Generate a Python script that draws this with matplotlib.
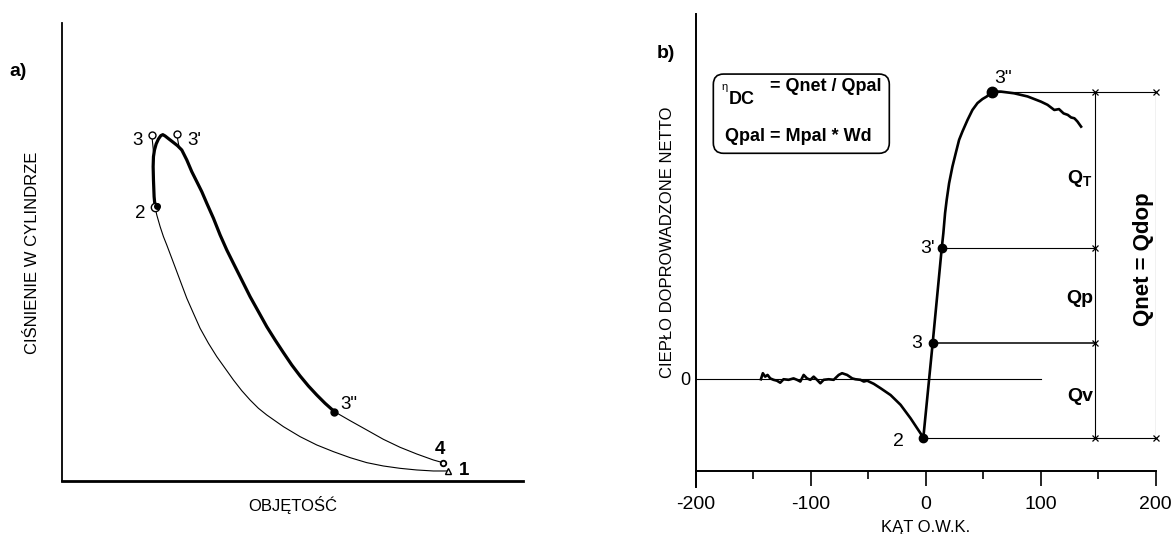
import matplotlib
matplotlib.use("Agg")
import matplotlib.pyplot as plt
from matplotlib.patches import FancyBboxPatch

plt.rcParams['font.family'] = ['Liberation Sans', 'DejaVu Sans']

# ---------------- a) cylinder pressure vs volume ----------------
# compression 1 -> 2 (thin line)
compression_v = [83.43, 80.54, 76.92, 73.30, 69.68, 66.07, 62.45, 58.83,
                 55.21, 51.60, 47.98, 44.36, 42.55, 40.74, 38.93, 37.12,
                 35.32, 33.51, 31.70, 29.89, 28.44, 27.00, 25.91, 24.83,
                 23.74, 22.65, 21.93, 21.21, 20.48, 20.12]
compression_p = [2.18, 2.18, 2.40, 2.76, 3.27, 4.00, 5.09, 6.40, 7.86, 9.67,
                 11.85, 14.40, 15.86, 17.67, 19.71, 22.04, 24.58, 27.13,
                 30.04, 33.31, 36.58, 39.86, 42.77, 45.67, 48.59, 51.49,
                 53.31, 55.49, 58.04, 59.71]
# combustion and expansion 2 -> 3 -> 3' -> 3" (thick line)
combustion_v = [20.12, 19.90, 19.76, 19.69, 19.76, 19.98, 20.34, 20.84,
                21.35, 21.79, 22.29, 23.02, 23.96, 24.97, 25.91, 27.00,
                28.08, 29.17, 30.25, 31.34, 32.79, 34.23, 35.68, 37.12,
                38.93, 40.74, 42.55, 44.36, 46.17, 47.98, 49.79, 51.60,
                53.40, 55.21, 57.02, 59.05]
combustion_p = [59.71, 62.04, 65.68, 68.59, 70.77, 72.22, 73.53, 74.62,
                75.35, 75.57, 75.28, 74.70, 73.97, 73.17, 72.22, 70.04,
                67.49, 65.31, 63.13, 60.59, 57.31, 53.68, 50.40, 47.49,
                43.86, 40.22, 36.95, 33.67, 30.77, 28.00, 25.31, 22.91,
                20.73, 18.77, 16.95, 15.13]
# after-burning expansion 3" -> 4 (thin line)
expansion_v = [59.05, 62.45, 66.07, 69.68, 73.30, 76.92, 80.54, 82.57]
expansion_p = [15.13, 13.16, 11.13, 9.09, 7.35, 5.89, 4.58, 4.00]

# characteristic points of the p-V cycle
pv_point_names = ['1', '2', '3', "3'", '3"', '4']
pv_point_v = [83.7, 20.12, 19.4, 24.8, 59.05, 82.57]
pv_point_p = [2.2, 59.71, 75.5, 75.7, 15.13, 4.0]
# where the leader lines of points 3 and 3' meet the curve
leader_v = [19.8, 25.3]
leader_p = [71.5, 73.0]

# ---------------- b) net heat released vs crank angle ----------------
angle_pre = [-143.3, -141.6, -139.6, -137.5, -135.2, -132.3, -129.4, -126.5,
             -123.6, -119.2, -114.9, -111.9, -109.0, -106.1, -103.2, -100.3,
             -97.4, -94.5, -91.6, -88.7, -84.3, -80.0, -75.6, -72.7, -68.3,
             -63.9, -61.1, -56.7, -53.8, -50.9, -45.1, -39.3, -30.5, -21.8,
             -13.1, -7.3]
q_pre = [-0.1, 2.0, 0.8, 1.4, 0.2, -0.3, -0.6, -1.3, -0.1, -0.3, 0.2, -0.3,
         -0.9, 1.4, 0.2, -0.3, 0.8, -0.3, -1.5, -0.3, -0.1, -0.3, 1.4, 2.0,
         1.4, 0.2, -0.1, -0.3, -0.9, -0.6, -1.7, -3.2, -5.6, -9.0, -13.7,
         -17.2]
angle_rise = [15.4, 16.9, 18.3, 20.4, 23.3, 26.2, 29.1, 32.0, 36.4, 40.7,
              45.1, 49.4, 53.2]
q_rise = [50.7, 57.7, 62.3, 68.1, 73.9, 78.6, 83.2, 86.1, 90.1, 93.6,
          96.0, 97.4, 98.3]
angle_post = [65.4, 77.0, 88.7, 100.3, 106.0, 111.9, 116.0, 120.0, 123.6,
              126.5, 129.4, 132.0, 135.2]
q_post = [100.0, 99.4, 98.3, 96.5, 95.4, 93.6, 93.9, 92.4, 91.9, 91.0,
          90.7, 89.6, 87.8]

# characteristic points 2, 3, 3', 3"
heat_point_names = ['2', '3', "3'", '3"']
heat_point_angle = [-2.0, 6.1, 14.0, 57.6]
heat_point_q = [-20.4, 12.4, 45.5, 100.0]

# crank angle ticks
angle_ticks = [-200, -100, 0, 100, 200]
angle_minor_ticks = [-150, -50, 50, 150]
# positions of the dimension lines
dim_inner_angle = 147
dim_outer_angle = 200

fig = plt.figure(figsize=(11.74, 5.34), dpi=100)

# ---- panel a ----
ax1 = fig.add_axes([0.0532, 0.0993, 0.3923, 0.8582])
ax1.set_xlim(0, 100)
ax1.set_ylim(0, 100)
for s in ('top', 'right'):
    ax1.spines[s].set_visible(False)
ax1.spines['left'].set_linewidth(1.3)
ax1.spines['bottom'].set_linewidth(2.0)
ax1.set_xticks([])
ax1.set_yticks([])

ax1.plot(compression_v, compression_p, color='black', lw=0.8)
ax1.plot(combustion_v, combustion_p, color='black', lw=2.3,
         solid_capstyle='round', solid_joinstyle='round')
ax1.plot(expansion_v, expansion_p, color='black', lw=0.8)

pv = dict(zip(pv_point_names, zip(pv_point_v, pv_point_p)))
# leader lines for 3 and 3'
for name, lv, lp in zip(['3', "3'"], leader_v, leader_p):
    ax1.plot([pv[name][0], lv], [pv[name][1], lp], color='black', lw=0.8)
for name in ['3', "3'"]:
    ax1.plot(*pv[name], marker='o', ms=5, mfc='white', mec='black', mew=1.0)
ax1.plot(*pv['2'], marker='o', ms=6, mfc='white', mec='black', mew=1.0)
ax1.plot(pv['2'][0] + 0.3, pv['2'][1] + 0.3, marker='o', ms=4, color='black')
ax1.plot(*pv['3"'], marker='o', ms=5, color='black')
ax1.plot(*pv['4'], marker='o', ms=4, mfc='white', mec='black', mew=1.3)
ax1.plot(*pv['1'], marker='^', ms=5, mfc='white', mec='black', mew=1.0)

pv_label_pos = {'3': (16.4, 74.4), "3'": (28.6, 74.4), '2': (16.9, 58.3),
                '3"': (62.2, 16.6), '4': (82.0, 6.9), '1': (87.2, 2.2)}
for name, (lx, ly) in pv_label_pos.items():
    ax1.text(lx, ly, name, fontsize=13.5, ha='center', va='center',
             fontweight='bold' if name in ('4', '1') else 'normal')

ax1.set_xlabel('OBJĘTOŚĆ', fontsize=12)
ax1.xaxis.set_label_coords(0.5005, -0.0524)
ax1.xaxis.label.set_va('center')
ax1.set_ylabel('CIŚNIENIE W CYLINDRZE', fontsize=12)
ax1.yaxis.set_label_coords(-0.064, 0.4975)
ax1.yaxis.label.set_va('center')

fig.text(18 / 1174, 1 - 71 / 534, 'a)', fontsize=14, fontweight='bold',
         ha='center', va='center')

# ---- panel b ----
ax2 = fig.add_axes([0.5926, 0.0880, 0.3917, 0.8858])
ax2.set_xlim(-200, 200)
ax2.set_ylim(-37.6, 127)
for s in ('top', 'right'):
    ax2.spines[s].set_visible(False)
ax2.spines['bottom'].set_position(('data', -32.2))
ax2.spines['left'].set_linewidth(1.4)
ax2.spines['bottom'].set_linewidth(1.4)
ax2.set_xticks(angle_ticks)
ax2.set_xticklabels([str(t) for t in angle_ticks])
ax2.set_xticks(angle_minor_ticks, minor=True)
ax2.tick_params(axis='x', which='major', direction='out', length=10.8,
                width=1.2, pad=7, labelsize=14)
ax2.tick_params(axis='x', which='minor', direction='out', length=5.5,
                width=1.2)
ax2.set_yticks([0])
ax2.set_yticklabels(['0'])
ax2.tick_params(axis='y', length=0, pad=4, labelsize=13)

# zero reference
ax2.plot([-200, 100], [0, 0], color='black', lw=0.8)

hp = dict(zip(heat_point_names, zip(heat_point_angle, heat_point_q)))
curve_a = angle_pre + [hp['2'][0], hp['3'][0], hp["3'"][0]] + angle_rise + \
    [hp['3"'][0]] + angle_post
curve_q = q_pre + [hp['2'][1], hp['3'][1], hp["3'"][1]] + q_rise + \
    [hp['3"'][1]] + q_post
ax2.plot(curve_a, curve_q, color='black', lw=1.9, solid_joinstyle='round')

# dimension lines
thin = dict(color='black', lw=0.8)
ax2.plot([hp['3"'][0], dim_outer_angle], [hp['3"'][1]] * 2, **thin)
ax2.plot([hp["3'"][0], dim_inner_angle], [hp["3'"][1]] * 2, **thin)
ax2.plot([hp['3'][0], dim_inner_angle], [hp['3'][1]] * 2, color='black',
         lw=1.1)
ax2.plot([hp['2'][0], dim_outer_angle], [hp['2'][1]] * 2, **thin)
ax2.plot([dim_inner_angle] * 2, [hp['2'][1], hp['3"'][1]], **thin)
ax2.plot([dim_outer_angle] * 2, [hp['2'][1], hp['3"'][1]], **thin)
ax2.plot([dim_inner_angle] * 4,
         [hp['2'][1], hp['3'][1], hp["3'"][1], hp['3"'][1]],
         ls='none', marker='x', ms=4, mew=0.9, color='black')
ax2.plot([dim_outer_angle] * 2, [hp['2'][1], hp['3"'][1]],
         ls='none', marker='x', ms=4, mew=0.9, color='black', clip_on=False)

for name in heat_point_names:
    ax2.plot(*hp[name], marker='o', ms=7.5 if name == '3"' else 6,
             color='black')

heat_label_pos = {'2': (-23.3, -21.8), '3': (-7.8, 12.4), "3'": (1.5, 45.5),
                  '3"': (67.0, 104.5)}
for name, (lx, ly) in heat_label_pos.items():
    ax2.text(lx, ly, name, fontsize=14, ha='center', va='center')

ax2.text(145.5, 69.9, r'Q$_\mathregular{T}$', fontsize=14, fontweight='bold',
         ha='right', va='center')
ax2.text(145.5, 28.1, 'Qp', fontsize=14, fontweight='bold', ha='right',
         va='center')
ax2.text(145.5, -6.2, 'Qv', fontsize=14, fontweight='bold', ha='right',
         va='center')
ax2.text(189.5, 41.8, 'Qnet = Qdop', fontsize=16, fontweight='bold',
         rotation=90, ha='center', va='center')

# efficiency definitions box
box = FancyBboxPatch((0.0383, 0.7055), 0.3827, 0.1675,
                     boxstyle='round,pad=0,rounding_size=0.022',
                     transform=ax2.transAxes, fc='white', ec='black', lw=1.2)
ax2.add_patch(box)
ax2.text(0.0637, 0.8446, 'η', fontsize=8, ha='center', va='center',
         transform=ax2.transAxes)
ax2.text(0.071, 0.820, 'DC', fontsize=13, fontweight='bold', ha='left',
         va='center', transform=ax2.transAxes)
ax2.text(0.1616, 0.8463, '= Qnet / Qpal', fontsize=13, fontweight='bold',
         ha='left', va='center', transform=ax2.transAxes)
ax2.text(0.2224, 0.7406, 'Qpal = Mpal * Wd', fontsize=13, fontweight='bold',
         ha='center', va='center', transform=ax2.transAxes)

ax2.set_xlabel('KĄT O.W.K.', fontsize=12)
ax2.xaxis.set_label_coords(0.5, -0.0846)
ax2.xaxis.label.set_va('center')
ax2.set_ylabel('CIEPŁO DOPROWADZONE NETTO', fontsize=12)
ax2.yaxis.set_label_coords(-0.0624, 0.517)
ax2.yaxis.label.set_va('center')

fig.text(666 / 1174, 1 - 53 / 534, 'b)', fontsize=14, fontweight='bold',
         ha='center', va='center')

fig.savefig('out.png', dpi=100)
